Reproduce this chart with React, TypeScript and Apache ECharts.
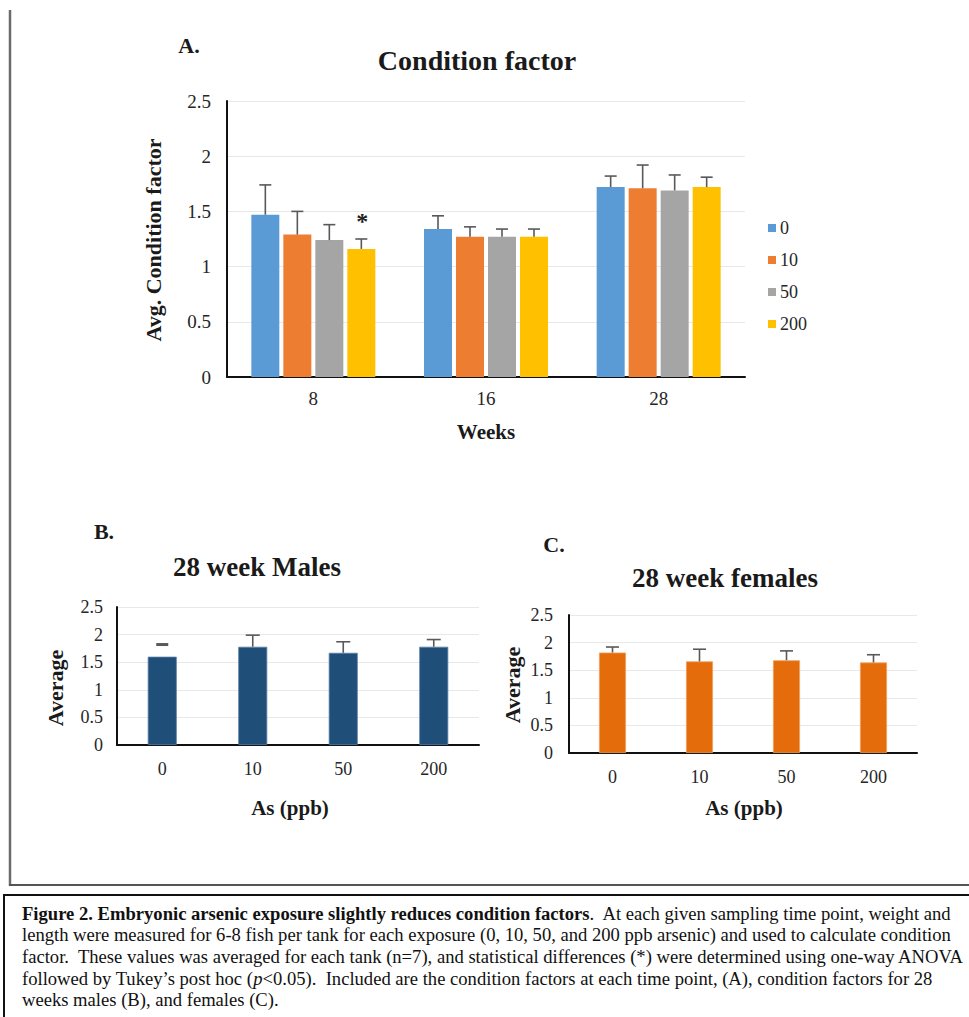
import React, { useEffect, useRef } from "react";
import * as echarts from "echarts";

// ---------- data ----------
const weeks = ["8", "16", "28"];
const doseNames = ["0", "10", "50", "200"];
const mean0 = [1.47, 1.34, 1.72];
const mean10 = [1.29, 1.27, 1.71];
const mean50 = [1.24, 1.27, 1.69];
const mean200 = [1.16, 1.27, 1.72];
const err0 = [0.27, 0.12, 0.1];
const err10 = [0.21, 0.09, 0.21];
const err50 = [0.14, 0.07, 0.14];
const err200 = [0.09, 0.07, 0.09];
const sig200 = ["*", "", ""];

const doses = ["0", "10", "50", "200"];
const maleMeans = [1.6, 1.78, 1.67, 1.78];
const maleErrs = [0.22, 0.21, 0.2, 0.13];
const maleErrLine = [false, true, true, true];
const femaleMeans = [1.82, 1.66, 1.68, 1.64];
const femaleErrs = [0.1, 0.22, 0.17, 0.14];

const yTicks = { min: 0, max: 2.5, step: 0.5 };

// ---------- styles ----------
const SERIF = "'Liberation Serif', 'Times New Roman', serif";
const COLORS_A = ["#5B9BD5", "#ED7D31", "#A5A5A5", "#FFC000"];
const COLOR_B = "#1F4E79";
const COLOR_C = "#E46C0A";
const ERR_COLOR = "#595959";

function errSeries(
  axisIdx: number,
  means: number[],
  errs: number[],
  offset: number,
  capW: number,
  marks?: string[],
  lineVisible?: boolean[]
) {
  return {
    type: "custom",
    xAxisIndex: axisIdx,
    yAxisIndex: axisIdx,
    z: 5,
    silent: true,
    encode: { x: 0, y: [1, 2] },
    data: means.map((m, i) => [i, m, m + errs[i]]),
    renderItem: (params: any, api: any) => {
      const i = api.value(0);
      const base = api.coord([i, api.value(1)]);
      const top = api.coord([i, api.value(2)]);
      const x = base[0] + offset;
      const children: any[] = [];
      const showLine = lineVisible ? lineVisible[params.dataIndex] : true;
      if (showLine) {
        children.push({
          type: "line",
          shape: { x1: x, y1: base[1], x2: x, y2: top[1] },
          style: { stroke: ERR_COLOR, lineWidth: 1.6 },
        });
        children.push({
          type: "line",
          shape: { x1: x - capW / 2, y1: top[1], x2: x + capW / 2, y2: top[1] },
          style: { stroke: ERR_COLOR, lineWidth: 1.6 },
        });
      } else {
        children.push({
          type: "line",
          shape: { x1: x - capW / 2 + 1, y1: top[1], x2: x + capW / 2 - 1, y2: top[1] },
          style: { stroke: ERR_COLOR, lineWidth: 3 },
        });
      }
      const mark = marks ? marks[params.dataIndex] : "";
      if (mark) {
        children.push({
          type: "text",
          x: x + 1,
          y: top[1] - 18,
          style: {
            text: mark,
            fontFamily: SERIF,
            fontWeight: "bold",
            fontSize: 24,
            fill: "#222",
            align: "center",
            verticalAlign: "middle",
          },
        });
      }
      return { type: "group", children };
    },
  };
}

function yAxis(gridIndex: number, fontSize: number, margin: number) {
  return {
    type: "value",
    gridIndex,
    min: yTicks.min,
    max: yTicks.max,
    interval: yTicks.step,
    axisLine: { show: true, lineStyle: { color: "#111", width: 2 } },
    axisTick: { show: false },
    splitLine: { lineStyle: { color: "#e8e8e8", width: 1 } },
    axisLabel: { fontFamily: SERIF, fontSize, color: "#262626", margin },
  };
}

function xAxis(gridIndex: number, data: string[], fontSize: number, margin: number) {
  return {
    type: "category",
    gridIndex,
    data,
    axisLine: { show: true, lineStyle: { color: "#111", width: 2 } },
    axisTick: { show: false },
    axisLabel: { fontFamily: SERIF, fontSize, color: "#262626", margin, interval: 0 },
  };
}

function gText(text: string, x: number, y: number, size: number, rotate = 0, weight = "bold") {
  return {
    type: "text",
    x,
    y,
    rotation: rotate,
    style: {
      text,
      fontFamily: SERIF,
      fontSize: size,
      fontWeight: weight,
      fill: "#1a1a1a",
      align: "center",
      verticalAlign: "middle",
    },
  };
}

const CAP_FS = 18.6;
const captionRich = {
  b: { fontFamily: SERIF, fontSize: CAP_FS, fontWeight: "bold", fill: "#111" },
  n: { fontFamily: SERIF, fontSize: CAP_FS, fill: "#111" },
  i: { fontFamily: SERIF, fontSize: CAP_FS, fontStyle: "italic", fill: "#111" },
};

function capLine(text: string, y: number) {
  return {
    type: "text",
    x: 22,
    y,
    style: {
      text,
      rich: captionRich,
      fontFamily: SERIF,
      fontSize: CAP_FS,
      fill: "#111",
      align: "left",
      verticalAlign: "middle",
    },
  };
}

export default function App() {
  const ref = useRef<HTMLDivElement>(null);
  useEffect(() => {
    if (!ref.current) return;
    const chart = echarts.init(ref.current, undefined, { renderer: "svg" });
    const meansA = [mean0, mean10, mean50, mean200];
    const errsA = [err0, err10, err50, err200];
    const barWA = 28;
    const gapA = 4;
    const option: any = {
      animation: false,
      backgroundColor: "#fff",
      grid: [
        { left: 227, top: 101, width: 518, height: 276 },
        { left: 117, top: 607, width: 362, height: 138 },
        { left: 569, top: 615, width: 348, height: 138 },
      ],
      xAxis: [
        xAxis(0, weeks, 19, 12),
        xAxis(1, doses, 18, 15),
        xAxis(2, doses, 18, 15),
      ],
      yAxis: [yAxis(0, 19, 16), yAxis(1, 18, 14), yAxis(2, 18, 16)],
      legend: {
        orient: "vertical",
        left: 763,
        top: 214,
        itemWidth: 8,
        itemHeight: 8,
        itemGap: 14,
        icon: "rect",
        data: doseNames,
        textStyle: { fontFamily: SERIF, fontSize: 18, color: "#262626", padding: [0, 0, 0, -1] },
      },
      series: [
        ...meansA.map((m, k) => ({
          type: "bar",
          name: doseNames[k],
          xAxisIndex: 0,
          yAxisIndex: 0,
          data: m,
          barWidth: barWA,
          barGap: `${(gapA / barWA) * 100}%`,
          itemStyle: { color: COLORS_A[k] },
        })),
        ...meansA.map((m, k) =>
          errSeries(0, m, errsA[k], (k - 1.5) * (barWA + gapA), 12, k === 3 ? sig200 : undefined)
        ),
        {
          type: "bar",
          xAxisIndex: 1,
          yAxisIndex: 1,
          data: maleMeans,
          barWidth: 29,
          itemStyle: { color: COLOR_B, borderColor: "#5a7fa6", borderWidth: 0.8 },
        },
        errSeries(1, maleMeans, maleErrs, 0, 14, undefined, maleErrLine),
        {
          type: "bar",
          xAxisIndex: 2,
          yAxisIndex: 2,
          data: femaleMeans,
          barWidth: 27,
          itemStyle: { color: COLOR_C, borderColor: "#f0a060", borderWidth: 0.8 },
        },
        errSeries(2, femaleMeans, femaleErrs, 0, 13),
      ],
      graphic: [
        // frame
        { type: "line", shape: { x1: 10, y1: 10, x2: 10, y2: 886 }, style: { stroke: "#6b6b6b", lineWidth: 2.5 } },
        { type: "line", shape: { x1: 9, y1: 885, x2: 969, y2: 885 }, style: { stroke: "#555", lineWidth: 2 } },
        { type: "rect", shape: { x: 4, y: 895, width: 1000, height: 200 }, style: { fill: "none", stroke: "#111", lineWidth: 2 } },
        // panel A
        gText("A.", 189, 45, 22),
        gText("Condition factor", 477, 60, 28),
        gText("Avg. Condition factor", 153, 240, 22, Math.PI / 2),
        gText("Weeks", 486, 432, 21),
        // panel B
        gText("B.", 104, 531, 22),
        gText("28 week Males", 257, 567, 27),
        gText("Average", 55, 688, 22, Math.PI / 2),
        gText("As (ppb)", 290, 808, 21),
        // panel C
        gText("C.", 554, 544, 22),
        gText("28 week females", 725, 578, 27),
        gText("Average", 512, 685, 22, Math.PI / 2),
        gText("As (ppb)", 744, 808, 21),
        // caption
        capLine(
          "{b|Figure 2. Embryonic arsenic exposure slightly reduces condition factors}{n|.  At each given sampling time point, weight and}",
          913
        ),
        capLine(
          "{n|length were measured for 6-8 fish per tank for each exposure (0, 10, 50, and 200 ppb arsenic) and used to calculate condition}",
          934.7
        ),
        capLine(
          "{n|factor.  These values was averaged for each tank (n=7), and statistical differences (*) were determined using one-way ANOVA}",
          956.3
        ),
        capLine(
          "{n|followed by Tukey’s post hoc (}{i|p}{n|<0.05).  Included are the condition factors at each time point, (A), condition factors for 28}",
          978
        ),
        capLine("{n|weeks males (B), and females (C).}", 999.7),
      ],
    };
    chart.setOption(option);
    return () => chart.dispose();
  }, []);
  return (
    <div
      ref={ref}
      style={{ position: "absolute", left: 0, top: 0, width: 969, height: 1017, background: "#fff" }}
    />
  );
}
